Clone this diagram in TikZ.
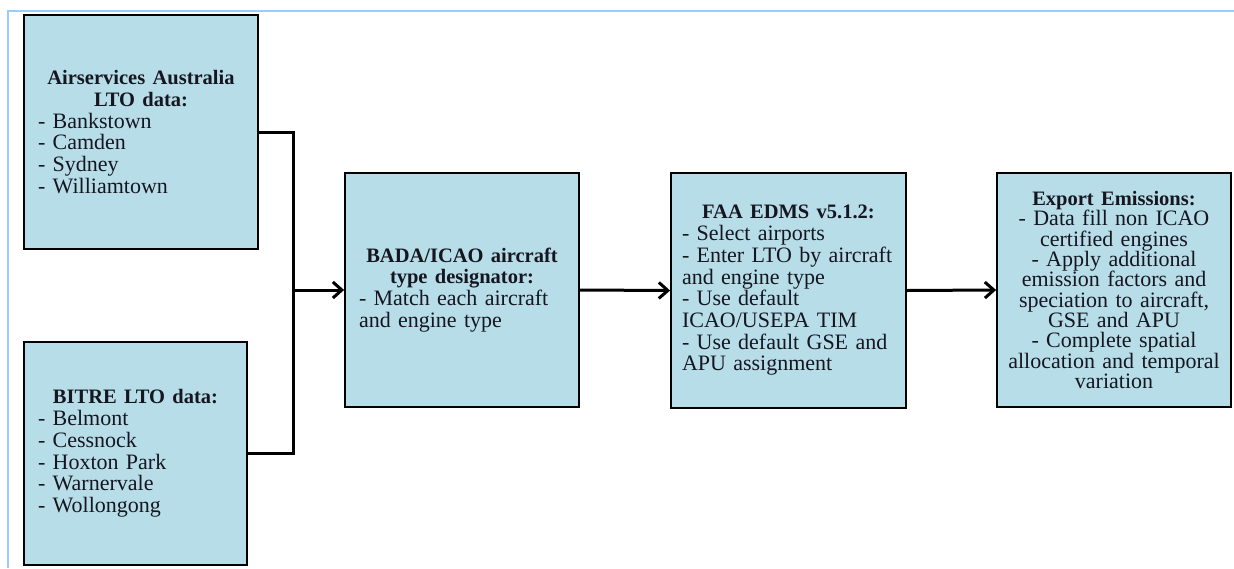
\documentclass[tikz,border=0pt]{standalone}
\usepackage{fontspec}
\setmainfont{Liberation Serif}
\usetikzlibrary{arrows.meta}
\definecolor{boxfill}{RGB}{183,221,232}
\definecolor{framec}{RGB}{153,204,255}
\definecolor{textc}{RGB}{22,22,32}
\newcommand\myhd{\fontsize{20.5}{21.7}\selectfont\bfseries}
\newcommand\mybd{\fontsize{22}{21.7}\selectfont\hyphenpenalty=10000\exhyphenpenalty=10000}
\newcommand\myhdsm{\fontsize{20.5}{20.3}\selectfont\bfseries}
\newcommand\mybdsm{\fontsize{22}{20.3}\selectfont\hyphenpenalty=10000\exhyphenpenalty=10000}
\newcommand\hdl[1]{{\centering\myhd #1\par}}
\tikzset{
  box/.style={draw=black, line width=1.8pt, fill=boxfill, text=textc,
    inner sep=0pt, align=left, font=\mybd},
  conn/.style={draw=black, line width=3pt},
  arr/.style={conn, -{Straight Barb[length=9pt,width=16pt,line width=3pt]}},
  frame/.style={draw=framec, line width=2pt}
}
\begin{document}
\begin{tikzpicture}[x=1pt,y=-1pt]
\useasboundingbox (0,0) rectangle (1234,568);
\draw[frame] (8,568) -- (8,11) -- (1234,11);

\node[box, minimum width=234pt, minimum height=234pt, text width=206pt] (b1) at (141,132)
  {\hdl{Airservices Australia\\LTO data:}- Bankstown\\- Camden\\- Sydney\\- Williamtown};
\node[box, minimum width=223pt, minimum height=223pt, text width=195pt] (b2) at (135.5,453.5)
  {\hdl{BITRE LTO data:}- Belmont\\- Cessnock\\- Hoxton Park\\- Warnervale\\- Wollongong};
\node[box, minimum width=234pt, minimum height=234pt, text width=206pt] (b3) at (462,290)
  {\hdl{BADA/ICAO aircraft\\type designator:}- Match each aircraft\\and engine type};
\node[box, minimum width=235pt, minimum height=235pt, text width=213pt] (b4) at (788.5,290.5)
  {\hdl{FAA EDMS v5.1.2:}- Select airports\\- Enter LTO by aircraft\\and engine type\\- Use default\\ICAO/USEPA TIM\\- Use default GSE and\\APU assignment};
\node[box, minimum width=234pt, minimum height=234pt, text width=226pt, align=center, font=\mybdsm] (b5) at (1114,290)
  {{\myhdsm Export Emissions:}\\- Data fill non ICAO\\certified engines\\- Apply additional\\emission factors and\\speciation to aircraft,\\GSE and APU\\- Complete spatial\\allocation and temporal\\variation};

\coordinate (j) at (293,290);
\draw[conn] (b1.east) -| (j) |- (b2.east);
\draw[arr] (j) -- (b3.west);
\draw[arr] (b3.east) -- (b4.west);
\draw[arr] (b4.east) -- (b5.west);
\end{tikzpicture}
\end{document}
